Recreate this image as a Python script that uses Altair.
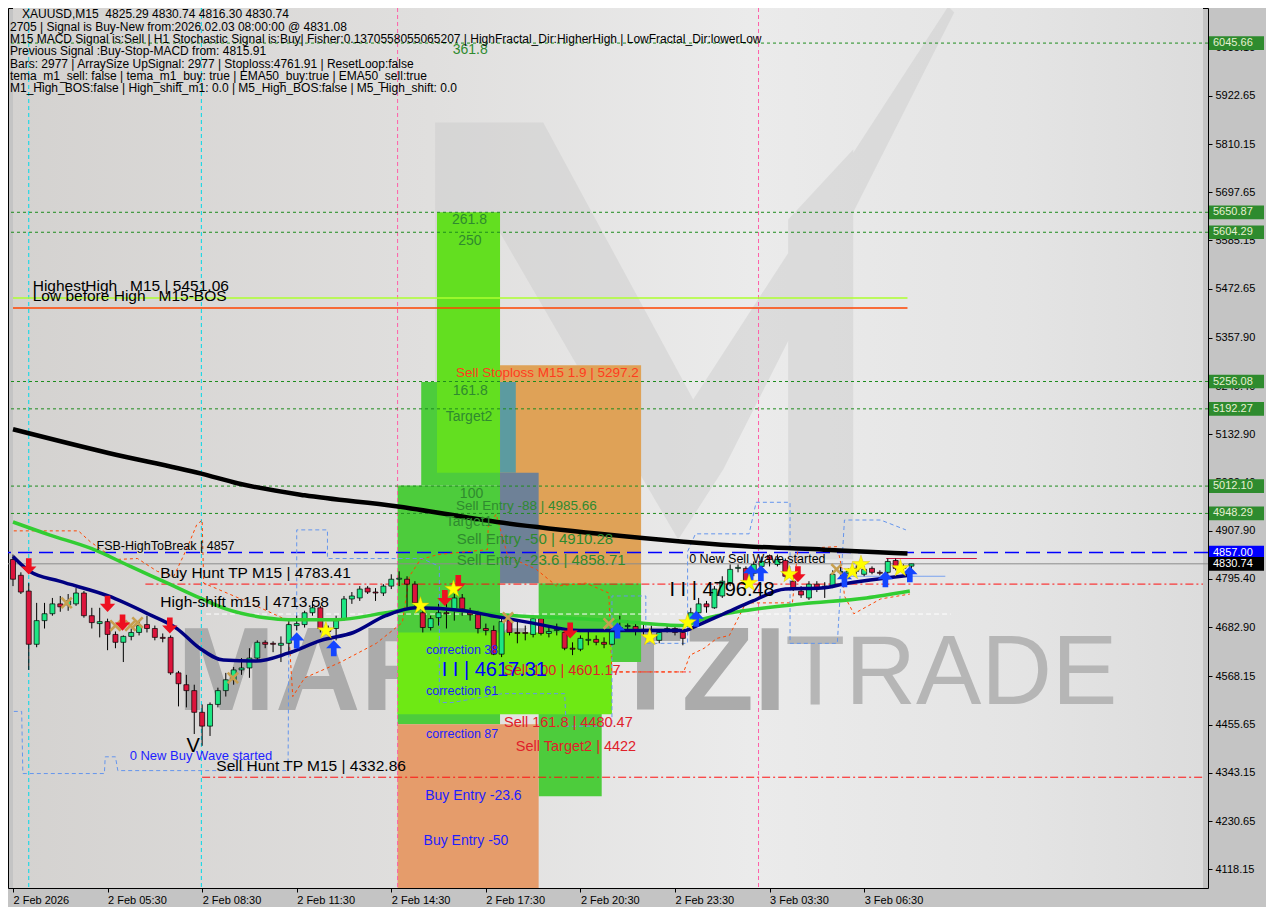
import json
import altair as alt
import pandas as pd

W, H = 1200, 880
FONT = "Liberation Sans"
X_DOM = [0, 151]
Y_DOM = [4074.4, 6127.5]
NB = "\u00a0"

# ---------------- axis ticks ----------------
x_tick_vals = [0, 12, 24, 36, 48, 60, 72, 84, 96, 108]
x_tick_labels = ["2 Feb 2026", "2 Feb 05:30", "2 Feb 08:30", "2 Feb 11:30", "2 Feb 14:30",
                 "2 Feb 17:30", "2 Feb 20:30", "2 Feb 23:30", "3 Feb 03:30", "3 Feb 06:30"]
y_tick_vals = [6035.15, 5922.65, 5810.15, 5697.65, 5585.15, 5472.65, 5357.90, 5245.40, 5132.90,
               5020.40, 4907.90, 4795.40, 4682.90, 4568.15, 4455.65, 4343.15, 4230.65, 4118.15]

# ---------------- candles (M15) ----------------
bar_idx = list(range(115))
opens = [4840.8, 4804.0, 4767.2, 4643.0, 4698.2, 4714.3, 4737.3, 4735.0, 4737.3, 4762.6,
         4709.7, 4691.3, 4695.9, 4666.0, 4647.6, 4661.4, 4670.6, 4689.0, 4679.8, 4659.1,
         4659.1, 4576.3, 4548.7, 4534.9, 4484.3, 4452.1, 4502.7, 4534.9, 4560.2, 4583.2,
         4587.8, 4610.8, 4647.6, 4645.3, 4640.7, 4645.3, 4686.7, 4689.0, 4716.6, 4728.1,
         4679.8, 4679.8, 4702.8, 4748.8, 4751.1, 4774.1, 4764.9, 4762.6, 4778.7, 4794.8,
         4794.8, 4783.3, 4716.6, 4682.1, 4705.1, 4716.6, 4725.8, 4751.1, 4716.6, 4712.0,
         4679.8, 4675.2, 4620.0, 4698.2, 4670.6, 4670.6, 4666.0, 4702.8, 4668.3, 4675.2,
         4670.6, 4633.8, 4631.5, 4652.2, 4654.5, 4647.6, 4643.0, 4679.8, 4684.4, 4684.4,
         4675.2, 4672.9, 4652.2, 4677.5, 4679.8, 4670.6, 4693.6, 4716.6, 4737.3, 4728.1,
         4755.7, 4785.6, 4820.1, 4820.1, 4808.6, 4824.7, 4850.0, 4829.3, 4838.5, 4790.2,
         4767.2, 4751.1, 4783.3, 4778.7, 4778.7, 4810.9, 4808.6, 4813.2, 4806.3, 4820.1,
         4810.9, 4810.9, 4838.5, 4820.1, 4825.29]
highs = [4852.3, 4810.9, 4785.6, 4739.6, 4739.6, 4751.1, 4755.7, 4760.3, 4774.1, 4767.2,
         4728.1, 4728.1, 4702.8, 4672.9, 4663.7, 4679.8, 4698.2, 4709.7, 4686.7, 4668.3,
         4663.7, 4580.9, 4571.7, 4548.7, 4502.7, 4507.3, 4541.8, 4576.3, 4590.1, 4610.8,
         4633.8, 4652.2, 4652.2, 4649.9, 4661.4, 4698.2, 4709.7, 4721.2, 4744.2, 4732.7,
         4686.7, 4709.7, 4755.7, 4764.9, 4778.7, 4778.7, 4774.1, 4783.3, 4806.3, 4813.2,
         4801.7, 4790.2, 4737.3, 4709.7, 4737.3, 4739.6, 4760.3, 4760.3, 4728.1, 4721.2,
         4691.3, 4686.7, 4705.1, 4709.7, 4698.2, 4686.7, 4709.7, 4709.7, 4686.7, 4691.3,
         4675.2, 4647.6, 4663.7, 4675.2, 4663.7, 4659.1, 4686.7, 4709.7, 4698.2, 4691.3,
         4691.3, 4686.7, 4677.5, 4686.7, 4686.7, 4675.2, 4728.1, 4751.1, 4744.2, 4778.7,
         4801.7, 4829.3, 4829.3, 4824.7, 4836.2, 4847.7, 4852.3, 4852.3, 4843.1, 4801.7,
         4778.7, 4790.2, 4790.2, 4787.9, 4815.5, 4824.7, 4820.1, 4827.0, 4824.7, 4824.7,
         4815.5, 4843.1, 4843.1, 4829.3, 4830.74]
lows = [4778.7, 4760.3, 4583.2, 4636.1, 4679.8, 4709.7, 4718.9, 4721.2, 4732.7, 4705.1,
        4679.8, 4659.1, 4629.2, 4633.8, 4601.6, 4652.2, 4663.7, 4670.6, 4652.2, 4647.6,
        4571.7, 4498.1, 4495.8, 4433.7, 4406.1, 4429.1, 4495.8, 4521.1, 4548.7, 4571.7,
        4564.8, 4606.2, 4633.8, 4624.6, 4601.6, 4622.3, 4675.2, 4682.1, 4709.7, 4670.6,
        4663.7, 4652.2, 4698.2, 4737.3, 4744.2, 4760.3, 4744.2, 4755.7, 4771.8, 4778.7,
        4721.2, 4732.7, 4670.6, 4675.2, 4686.7, 4679.8, 4698.2, 4709.7, 4698.2, 4668.3,
        4663.7, 4617.7, 4613.1, 4663.7, 4645.3, 4652.2, 4659.1, 4663.7, 4659.1, 4663.7,
        4629.2, 4617.7, 4626.9, 4640.7, 4640.7, 4633.8, 4640.7, 4672.9, 4677.5, 4663.7,
        4663.7, 4663.7, 4645.3, 4670.6, 4663.7, 4640.7, 4691.3, 4712.0, 4716.6, 4725.8,
        4751.1, 4778.7, 4810.9, 4778.7, 4801.7, 4813.2, 4824.7, 4824.7, 4794.8, 4767.2,
        4751.1, 4746.5, 4764.9, 4751.1, 4774.1, 4801.7, 4801.7, 4806.3, 4801.7, 4806.3,
        4804.0, 4806.3, 4815.5, 4813.2, 4816.30]
closes = [4794.8, 4764.9, 4643.0, 4698.2, 4714.3, 4737.3, 4730.4, 4744.2, 4762.6, 4709.7,
          4693.6, 4695.9, 4666.0, 4647.6, 4661.4, 4670.6, 4686.7, 4679.8, 4659.1, 4656.8,
          4576.3, 4551.0, 4534.9, 4484.3, 4452.1, 4502.7, 4534.9, 4560.2, 4583.2, 4587.8,
          4610.8, 4647.6, 4643.0, 4643.0, 4645.3, 4689.0, 4691.3, 4716.6, 4728.1, 4679.8,
          4672.9, 4698.2, 4748.8, 4755.7, 4771.8, 4764.9, 4762.6, 4778.7, 4794.8, 4797.1,
          4783.3, 4739.6, 4682.1, 4702.8, 4716.6, 4714.3, 4751.1, 4725.8, 4712.0, 4679.8,
          4675.2, 4620.0, 4695.9, 4670.6, 4668.3, 4668.3, 4702.8, 4668.3, 4672.9, 4677.5,
          4633.8, 4631.5, 4656.8, 4654.5, 4647.6, 4643.0, 4675.2, 4682.1, 4686.7, 4675.2,
          4677.5, 4677.5, 4670.6, 4679.8, 4670.6, 4656.8, 4716.6, 4737.3, 4730.4, 4771.8,
          4790.2, 4817.8, 4822.4, 4785.6, 4829.3, 4836.2, 4840.8, 4840.8, 4801.7, 4774.1,
          4758.0, 4783.3, 4774.1, 4776.4, 4806.3, 4813.2, 4813.2, 4820.1, 4817.8, 4810.9,
          4808.6, 4836.2, 4820.1, 4824.7, 4830.74]

# ---------------- moving averages ----------------
ma200_i = [0, 12.1, 23.9, 28.6, 37.0, 48.6, 61.4, 74.4, 85.1, 93.9, 102.9, 113.5]
ma200_p = [5144.7, 5089.4, 5041.1, 5018.1, 4990.5, 4965.1, 4928.3, 4900.7, 4882.3, 4870.8, 4863.8, 4854.7]
ma50_i = [0, 4.6, 10.0, 14.9, 19.6, 23.7, 27.0, 32.0, 34.9, 41.1, 47.3, 51.9, 61.9, 76.1, 85.1,
          87.7, 92.7, 100.1, 108.3, 113.8]
ma50_p = [4928.3, 4898.4, 4866.1, 4824.7, 4785.6, 4751.1, 4725.8, 4705.1, 4700.5, 4700.5, 4716.5,
          4728.1, 4712.0, 4698.2, 4686.7, 4702.7, 4721.2, 4737.3, 4751.1, 4767.2]
ma20_i = [0, 2.1, 5.9, 12.1, 17.1, 20.8, 23.7, 26.7, 30.8, 34.9, 39.1, 43.2, 47.3, 51.1, 57.3,
          60.7, 65.6, 71.9, 79.3, 85.2, 86.8, 90.2, 93.9, 98.0, 102.6, 105.9, 110.5, 113.8]
ma20_p = [4847.8, 4813.2, 4790.2, 4755.7, 4714.2, 4679.7, 4633.7, 4606.1, 4603.8, 4622.2, 4652.1,
          4670.5, 4709.7, 4728.1, 4721.2, 4709.7, 4693.6, 4675.1, 4675.1, 4675.1, 4686.7, 4714.2,
          4744.2, 4771.8, 4774.1, 4785.6, 4797.1, 4804.0]

# ---------------- stop band (orange dashed) & fractal channel (blue dashed) ----------------
band_i = [0.1, 8.3, 9.8, 13.0, 15.8, 18.3, 20.4, 22.0, 23.3, 24.0, 24.2, 29.5, 34.9, 35.5, 37.0,
          41.6, 46.1, 49.4, 50.3, 51.7, 53.9, 60.2, 60.3, 61.3, 62.8, 66.4, 69.0, 72.7, 75.6, 76.0,
          85.1, 85.9, 87.7, 89.3, 90.9, 93.0, 98.9, 99.6, 104.6, 105.2, 105.5, 106.7, 110.1, 113.8]
band_p = [4907.6, 4907.6, 4882.3, 4840.8, 4843.1, 4813.2, 4801.7, 4863.8, 4921.4, 4932.9, 4785.6,
          4744.2, 4698.2, 4520.9, 4564.6, 4601.5, 4645.2, 4693.6, 4801.7, 4840.8, 4852.3, 4863.8,
          4916.8, 4946.7, 4847.7, 4817.8, 4778.7, 4785.6, 4762.6, 4578.5, 4578.5, 4617.6, 4633.7,
          4656.7, 4663.6, 4739.6, 4739.6, 4866.1, 4870.8, 4817.8, 4755.7, 4714.2, 4748.8, 4760.3]
frac_i = [0.1, 1.1, 1.25, 11.6, 11.7, 13.0, 13.3, 34.9, 35.0, 36.0, 36.0, 39.9, 39.9, 51.9, 54.1,
          54.1, 55.7, 62.1, 70.0, 70.2, 76.0, 76.0, 80.3, 80.3, 85.6, 85.6, 86.6, 93.4, 94.3, 98.6,
          98.6, 104.6, 105.5, 110.1, 113.3]
frac_p = [4486.4, 4486.4, 4341.4, 4341.4, 4380.5, 4380.5, 4348.3, 4348.3, 4647.5, 4647.5, 4909.9,
          4909.9, 4843.1, 4843.1, 4824.7, 4507.1, 4507.1, 4527.8, 4527.8, 4451.9, 4451.9, 4755.7,
          4755.7, 4645.2, 4645.2, 4859.2, 4900.7, 4900.7, 4974.3, 4974.3, 4645.2, 4645.2, 4932.9,
          4932.9, 4909.9]

# ---------------- fibonacci zones ----------------
zone_x1 = [61.8, 51.8, 53.8, 61.8, 61.8, 48.8, 66.7, 66.7, 48.8, 48.8]
zone_x2 = [79.7, 61.8, 61.8, 63.8, 66.7, 61.8, 79.7, 74.7, 76.0, 66.7]
zone_top = [5294.2, 5255.1, 5651.0, 5255.1, 5043.4, 5013.5, 4785.6, 4601.6, 4670.5, 4456.6]
zone_bot = [4785.6, 5013.5, 5043.4, 5043.4, 4785.6, 4456.6, 4601.6, 4288.6, 4479.5, 4074.4]
zone_col = ["#dfa257", "#4dcc3c", "#63df20", "#5c9ba0", "#6e8197", "#4dcc3c", "#4dcc3c",
            "#4dcc3c", "#6ee914", "#e59c6b"]

# ---------------- levels ----------------
fib_levels = [6045.66, 5650.87, 5604.29, 5256.08, 5192.27, 5012.10, 4948.29]
fsb_level = 4857.00
last_price = 4830.74
highest_high = 5451.06
low_before_high = 5427.8
buy_hunt_tp = 4783.41
sell_hunt_tp = 4332.86
high_shift = 4713.58
sell_100 = 4578.5
cyan_times = [2.0, 23.9]
pink_times = [48.8, 94.6]

# ---------------- signal markers ----------------
down_i = [2.0, 12.0, 13.9, 19.9, 54.8, 56.5, 70.7, 99.6]
down_p = [4824.7, 4737.3, 4693.6, 4686.7, 4751.1, 4785.6, 4675.1, 4806.3]
up_i = [36.0, 40.7, 76.7, 86.7, 93.6, 94.9, 105.5, 110.7, 113.8]
up_p = [4652.1, 4633.7, 4675.1, 4702.7, 4808.6, 4808.6, 4794.8, 4794.8, 4806.3]
star_i = [39.7, 51.7, 55.9, 80.8, 85.6, 93.4, 98.5, 106.5, 107.6, 112.6]
star_p = [4675.1, 4732.7, 4771.8, 4659.0, 4693.6, 4785.6, 4806.3, 4813.2, 4829.5, 4820.0]
cross_i = [6.8, 13.0, 14.9, 15.8, 27.9, 62.8, 75.6, 104.5]
cross_p = [4739.6, 4686.7, 4686.7, 4693.6, 4564.6, 4705.1, 4691.3, 4817.8]

# ---------------- annotations ----------------
ann_text = ["361.8", "261.8", "250", "161.8", "Target2", "100", "Sell Entry -88 | 4985.66", "Target1",
            "Sell Entry -50 | 4910.28", "Sell Entry -23.6 | 4858.71", "Sell Stoploss M15 1.9 | 5297.2",
            "Sell 100 | 4601.17", "Sell 161.8 | 4480.47", "Sell Target2 | 4422",
            "correction 38", "correction 61", "correction 87", "Buy Entry -23.6", "Buy Entry -50",
            "I I | 4617.31", "I I | 4796.48", "0 New Sell Wave started", "0 New Buy Wave started",
            "Buy Hunt TP M15 | 4783.41", "High-shift m15 | 4713.58", "Sell Hunt TP M15 | 4332.86",
            "FSB-HighToBreak | 4857", "HighestHigh" + NB * 3 + "M15 | 5451.06",
            "Low before High" + NB * 3 + "M15-BOS", "V"]
ann_i = [55.8, 55.7, 56.5, 55.8, 54.9, 56.7, 56.2, 54.9, 56.3, 56.3, 56.2, 62.3, 62.3, 63.8,
         52.4, 52.4, 52.4, 52.3, 52.1, 54.4, 83.3, 85.8, 14.8, 18.7, 18.7, 25.8, 10.6, 2.5, 2.5, 22.0]
ann_p = [6028.5, 5632.6, 5584.3, 5234.4, 5172.3, 4992.8, 4965.1, 4928.3, 4889.2, 4838.5, 5275.8,
         4580.9, 4458.8, 4403.8, 4629.2, 4534.9, 4433.7, 4288.6, 4185.0, 4583.2, 4769.5, 4843.1,
         4382.8, 4808.6, 4741.9, 4359.8, 4873.1, 5478.4, 5455.4, 4406.1]
ann_size = [14, 14, 14, 14, 14, 14, 13.5, 14, 15, 15, 13.5, 14.5, 14.5, 14.5,
            12.5, 12.5, 12.5, 14, 14, 20, 20, 12.5, 13, 15.5, 15.5, 15.5, 12.5, 15.5, 15.5, 20]
GRN, RED, BLU = "#2f8a2f", "#e0202a", "#1e1eff"
ann_color = [GRN, GRN, GRN, GRN, GRN, GRN, GRN, GRN, GRN, GRN, "#ff3c1e", RED, RED, RED,
             BLU, BLU, BLU, BLU, BLU, "#0000ff", "black", "black", BLU, "black", "black", "black",
             "black", "black", "black", "black"]

header_first = "XAUUSD,M15" + NB * 2 + "4825.29 4830.74 4816.30 4830.74"
header_lines = [
    "2705 | Signal is Buy-New from:2026.02.03 08:00:00 @ 4831.08",
    "M15 MACD Signal is:Sell | H1 Stochastic Signal is:Buy| Fisher:0.1370558055065207 | HighFractal_Dir:HigherHigh | LowFractal_Dir:lowerLow",
    "Previous Signal :Buy-Stop-MACD from: 4815.91",
    "Bars: 2977 | ArraySize UpSignal: 2977 | Stoploss:4761.91 | ResetLoop:false",
    "tema_m1_sell: false | tema_m1_buy: true | EMA50_buy:true | EMA50_sell:true",
    "M1_High_BOS:false | High_shift_m1: 0.0 | M5_High_BOS:false | M5_High_shift: 0.0",
]

tag_prices = [6045.66, 5650.87, 5604.29, 5256.08, 5192.27, 5012.10, 4948.29, 4857.00, 4830.74]
tag_bg = ["#2e8b2e"] * 7 + ["#0000ff", "#000000"]
tag_fg = ["#e6f0d2"] * 7 + ["#ffffff", "#ffffff"]

# faint brand logo behind the chart (glyph outline relative to its anchor, in px)
logo_anchor_i = [80.6]
logo_anchor_p = [5354.1]
LOGO = ("M-213,-217 L-105,-217 L45,60 L-5,140 L-150,-110 L-150,220 L-213,220 Z "
        "M-5,140 L45,60 L300,-333 L306,-327 L75,130 L30,200 Z "
        "M140,-120 L205,-190 L205,220 L140,220 Z")

# ---------------- scales / axes ----------------
x_sc = alt.Scale(domain=X_DOM, nice=False, zero=False)
y_sc = alt.Scale(domain=Y_DOM, nice=False, zero=False)
label_expr = json.dumps(x_tick_labels) + "[round(datum.value / 12)]"
x_axis = alt.Axis(values=x_tick_vals, labelExpr=label_expr, orient="bottom", title=None, grid=False,
                  domain=False, tickSize=4, tickColor="black", labelAlign="left", labelPadding=2,
                  labelFont=FONT, labelFontSize=11, labelColor="black", labelOverlap=False,
                  labelFlush=False, labelBound=False)
y_axis = alt.Axis(values=y_tick_vals, format=".2f", orient="right", title=None, grid=False,
                  domain=False, tickSize=4, tickColor="black", labelPadding=3, labelFont=FONT,
                  labelFontSize=11, labelColor="black", labelOverlap=False, labelFlush=False,
                  labelBound=False)


def X(f):
    return alt.X(f, type="quantitative", scale=x_sc, axis=x_axis)


def Y(f):
    return alt.Y(f, type="quantitative", scale=y_sc, axis=y_axis)


layers = []

# background gradient
grad = alt.LinearGradient(gradient="linear", x1=0, x2=1, y1=0, y2=0,
                          stops=[alt.GradientStop(color="#d4d2d0", offset=0),
                                 alt.GradientStop(color="#e0dfde", offset=0.35),
                                 alt.GradientStop(color="#ebebeb", offset=0.62),
                                 alt.GradientStop(color="#e4e4e4", offset=0.85),
                                 alt.GradientStop(color="#dcdcdc", offset=1)])
bg_df = pd.DataFrame({"a": [X_DOM[0]], "b": [X_DOM[1]], "lo": [Y_DOM[0]], "hi": [Y_DOM[1]]})
layers.append(alt.Chart(bg_df).mark_rect(fill=grad, clip=True).encode(
    x=X("a"), x2=alt.X2("b"), y=Y("lo"), y2=alt.Y2("hi")))

# logo
layers.append(alt.Chart(pd.DataFrame({"i": logo_anchor_i, "p": logo_anchor_p})).mark_point(
    shape=LOGO, size=4, filled=True, color="#c9c9c9", opacity=0.45, clip=True).encode(
    x=X("i"), y=Y("p")))

# watermark
wm_df = pd.DataFrame({"t": ["MARKETZI"], "i": [20.8], "p": [4571.5]})
layers.append(alt.Chart(wm_df).mark_text(align="left", baseline="middle", font=FONT, fontSize=118,
                                         fontWeight="bold", color="#ababab", clip=True).encode(
    x=X("i"), y=Y("p"), text="t:N"))
wm2_df = pd.DataFrame({"t": ["TRADE"], "i": [98.0], "p": [4571.5]})
layers.append(alt.Chart(wm2_df).mark_text(align="left", baseline="middle", font=FONT, fontSize=98,
                                          color="#b6b6b6", clip=True).encode(
    x=X("i"), y=Y("p"), text="t:N"))

# fibonacci zones
zone_df = pd.DataFrame({"a": zone_x1, "b": zone_x2, "hi": zone_top, "lo": zone_bot, "col": zone_col,
                        "k": list(range(len(zone_x1)))})
layers.append(alt.Chart(zone_df).mark_rect(clip=True).encode(
    x=X("a"), x2=alt.X2("b"), y=Y("lo"), y2=alt.Y2("hi"),
    color=alt.Color("col:N", scale=None), order=alt.Order("k:Q")))

# vertical session lines
layers.append(alt.Chart(pd.DataFrame({"i": cyan_times})).mark_rule(
    color="#00d8e8", strokeDash=[4, 3], strokeWidth=1, clip=True).encode(x=X("i")))
layers.append(alt.Chart(pd.DataFrame({"i": pink_times})).mark_rule(
    color="#ff5fa8", strokeDash=[4, 3], strokeWidth=1, clip=True).encode(x=X("i")))

# full-width levels
layers.append(alt.Chart(pd.DataFrame({"p": fib_levels})).mark_rule(
    color="#1e8c1e", strokeDash=[3, 3], strokeWidth=1, clip=True).encode(y=Y("p")))
layers.append(alt.Chart(pd.DataFrame({"p": [fsb_level]})).mark_rule(
    color="#0000ff", strokeDash=[14, 7], strokeWidth=1.5, clip=True).encode(y=Y("p")))
layers.append(alt.Chart(pd.DataFrame({"p": [last_price]})).mark_rule(
    color="#8c8c8c", strokeWidth=1, clip=True).encode(y=Y("p")))


def hline(p, a, b, **style):
    return alt.Chart(pd.DataFrame({"p": [p], "a": [a], "b": [b]})).mark_rule(clip=True, **style).encode(
        x=X("a"), x2=alt.X2("b"), y=Y("p"))


layers.append(hline(highest_high, 0, 113.5, color="#adff2f", strokeWidth=1.5))
layers.append(hline(low_before_high, 0, 113.5, color="#ff4500", strokeWidth=1.5))
layers.append(hline(buy_hunt_tp, 16.8, 151, color="#ff1010", strokeDash=[8, 3, 2, 3], strokeWidth=1))
layers.append(hline(sell_hunt_tp, 24.0, 151, color="#ff1010", strokeDash=[8, 3, 2, 3], strokeWidth=1))
layers.append(hline(high_shift, 24.5, 119, color="#ffffff", strokeDash=[5, 3], strokeWidth=1))
layers.append(hline(sell_100, 76.0, 86.0, color="#ff3030", strokeDash=[4, 3], strokeWidth=1))
layers.append(hline(4843.1, 110.8, 122.3, color="#c8143c", strokeWidth=1))
layers.append(hline(4801.7, 105.9, 118.3, color="#7aa2f0", strokeWidth=1))

# dashed paths
band_df = pd.DataFrame({"i": band_i, "p": band_p, "k": list(range(len(band_i)))})
layers.append(alt.Chart(band_df).mark_line(color="#ff4500", strokeDash=[3, 3], strokeWidth=1,
                                           clip=True).encode(x=X("i"), y=Y("p"), order="k:Q"))
frac_df = pd.DataFrame({"i": frac_i, "p": frac_p, "k": list(range(len(frac_i)))})
layers.append(alt.Chart(frac_df).mark_line(color="#6495ed", strokeDash=[4, 3], strokeWidth=1,
                                           clip=True).encode(x=X("i"), y=Y("p"), order="k:Q"))

# candles
cdf = pd.DataFrame({"i": bar_idx, "o": opens, "h": highs, "l": lows, "c": closes})
layers.append(alt.Chart(cdf).mark_rule(color="black", strokeWidth=1, clip=True).encode(
    x=X("i"), y=Y("l"), y2=alt.Y2("h")))
layers.append(alt.Chart(cdf).mark_bar(size=5, stroke="black", strokeWidth=0.7, clip=True).encode(
    x=X("i"), y=Y("o"), y2=alt.Y2("c"),
    color=alt.condition("datum.c >= datum.o", alt.value("#1de683"), alt.value("#dc143c"))))

# moving averages
for xs, ps, col, sw in [(ma200_i, ma200_p, "#000000", 4.5), (ma50_i, ma50_p, "#32cd32", 3.5),
                        (ma20_i, ma20_p, "#000080", 3.5)]:
    layers.append(alt.Chart(pd.DataFrame({"i": xs, "p": ps})).mark_line(
        color=col, strokeWidth=sw, interpolate="monotone", clip=True).encode(x=X("i"), y=Y("p")))

# markers
DOWN = "M-0.35,-1 L0.35,-1 L0.35,0 L0.95,0 L0,1 L-0.95,0 L-0.35,0 Z"
UP = "M-0.35,1 L0.35,1 L0.35,0 L0.95,0 L0,-1 L-0.95,0 L-0.35,0 Z"
STAR = ("M0,-1 L0.2245,-0.309 L0.951,-0.309 L0.363,0.118 L0.588,0.809 L0,0.382 "
        "L-0.588,0.809 L-0.363,0.118 L-0.951,-0.309 L-0.2245,-0.309 Z")
CROSS = ("M-1,-0.7 L-0.7,-1 L0,-0.3 L0.7,-1 L1,-0.7 L0.3,0 L1,0.7 L0.7,1 L0,0.3 L-0.7,1 "
         "L-1,0.7 L-0.3,0 Z")
for xs, ps, shp, col, sz in [(cross_i, cross_p, CROSS, "#c8a050", 150),
                             (down_i, down_p, DOWN, "#ee1020", 260),
                             (up_i, up_p, UP, "#1446ff", 260),
                             (star_i, star_p, STAR, "#ffff00", 340)]:
    layers.append(alt.Chart(pd.DataFrame({"i": xs, "p": ps})).mark_point(
        shape=shp, filled=True, size=sz, color=col, opacity=1, stroke="#d8b400",
        strokeWidth=0.4 if col == "#ffff00" else 0, clip=True).encode(x=X("i"), y=Y("p")))

# annotations
ann_df = pd.DataFrame({"t": ann_text, "i": ann_i, "p": ann_p, "fs": ann_size, "col": ann_color})
layers.append(alt.Chart(ann_df).mark_text(align="left", baseline="middle", font=FONT).encode(
    x=X("i"), y=Y("p"), text="t:N", size=alt.Size("fs:Q", scale=None),
    color=alt.Color("col:N", scale=None)))

# header
layers.append(alt.Chart(pd.DataFrame({"t": [header_first]})).mark_text(
    align="left", baseline="top", font=FONT, fontSize=12, color="black").encode(
    x=alt.value(14), y=alt.value(1), text="t:N"))
layers.append(alt.Chart(pd.DataFrame({"t": ["\n".join(header_lines)]})).mark_text(
    align="left", baseline="top", font=FONT, fontSize=12, color="black", lineBreak="\n",
    lineHeight=12.2).encode(x=alt.value(2), y=alt.value(14), text="t:N"))

# price tags on the price axis
tag_df = pd.DataFrame({"p": tag_prices, "lab": ["%.2f" % v for v in tag_prices], "bg": tag_bg,
                       "fg": tag_fg})
layers.append(alt.Chart(tag_df).transform_calculate(
    hi="datum.p + 16", lo="datum.p - 16").mark_rect().encode(
    x=alt.value(W + 1), x2=alt.value(W + 56), y=Y("lo"), y2=alt.Y2("hi"),
    color=alt.Color("bg:N", scale=None)))
layers.append(alt.Chart(tag_df).mark_text(align="left", baseline="middle", font=FONT,
                                          fontSize=11).encode(
    x=alt.value(W + 5), y=Y("p"), text="lab:N", color=alt.Color("fg:N", scale=None)))

chart = alt.layer(*layers).properties(
    width=W, height=H, background="#c4c4c4",
    padding={"left": 0, "top": 0, "right": 2, "bottom": 2},
).configure_view(stroke="black", strokeWidth=1)

chart.save("out.html", embed_options={"renderer": "svg", "actions": False})
